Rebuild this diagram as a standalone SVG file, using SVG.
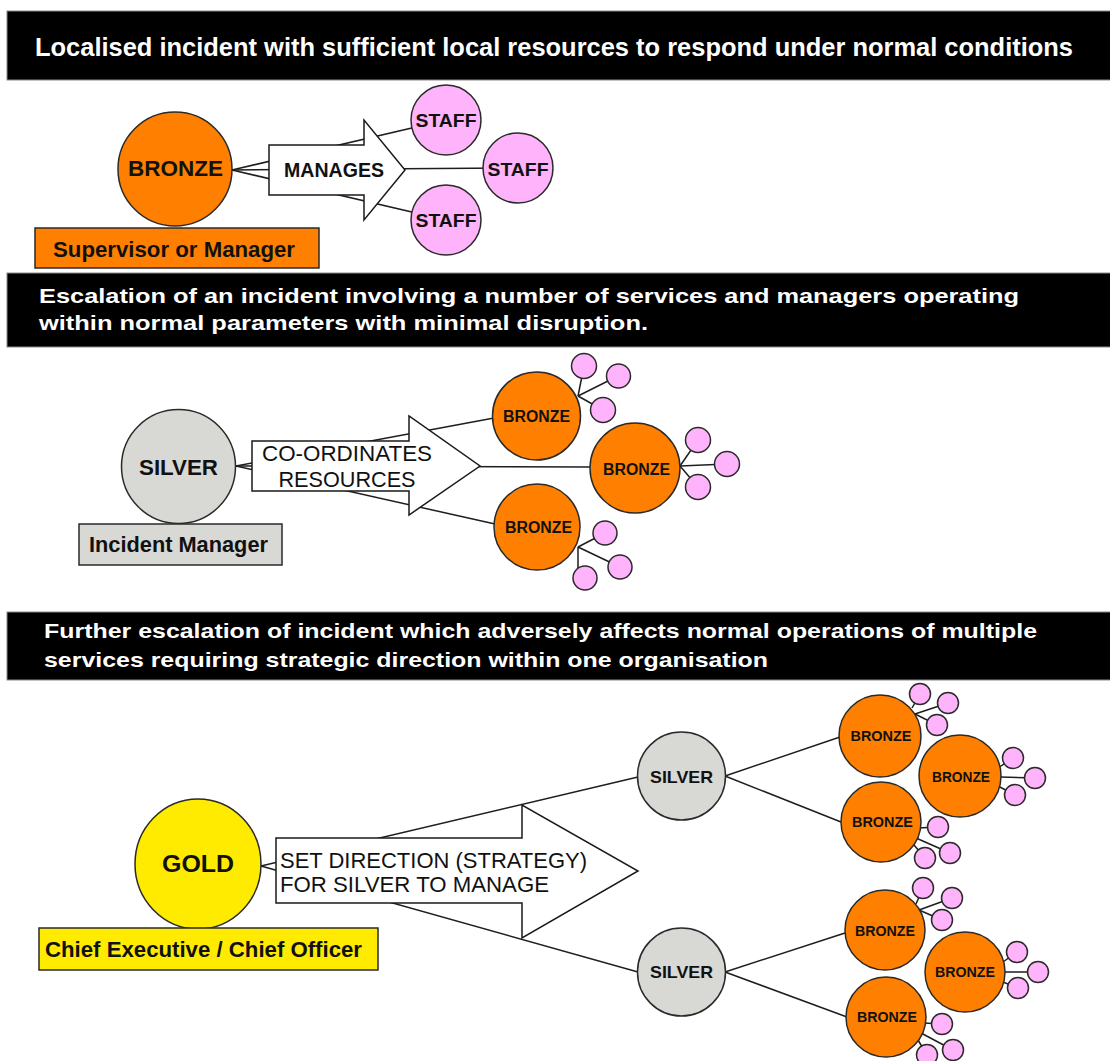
<svg xmlns="http://www.w3.org/2000/svg" width="1110" height="1061" viewBox="0 0 1110 1061">
  <style>
    .bar { fill: #000; stroke: #8a8a8a; stroke-width: 1; }
    .bar-text { font-family: "Liberation Sans", Arial, sans-serif; font-weight: bold; fill: #fff; }
    .lbl { font-family: "Liberation Sans", Arial, sans-serif; font-weight: bold; fill: #111; }
    .plain { font-family: "Liberation Sans", Arial, sans-serif; font-weight: normal; fill: #111; }
    .bronze { fill: #ff8000; stroke: #2a2a2a; stroke-width: 1.5; }
    .silver { fill: #d8d8d5; stroke: #2a2a2a; stroke-width: 1.5; }
    .gold { fill: #ffeb00; stroke: #2a2a2a; stroke-width: 1.5; }
    .staff { fill: #ffb3fa; stroke: #2a2a2a; stroke-width: 1.5; }
    .arrow { fill: #fff; stroke: #1a1a1a; stroke-width: 1.5; stroke-linejoin: miter; }
    .role { stroke: #2a2a2a; stroke-width: 1.5; }
    .link { stroke: #1e1e1e; stroke-width: 1.5; fill: none; }
  </style>

  <!-- Heading bars -->
  <g id="bar-localised">
    <rect class="bar" x="7" y="11" width="1110" height="69"/>
    <text class="bar-text" x="35" y="56" font-size="25.5" textLength="1038" lengthAdjust="spacingAndGlyphs">Localised incident with sufficient local resources to respond under normal conditions</text>
  </g>
  <g id="bar-escalation">
    <rect class="bar" x="7" y="273" width="1110" height="74"/>
    <text class="bar-text" x="39" y="303" font-size="21" textLength="980" lengthAdjust="spacingAndGlyphs">Escalation of an incident involving a number of services and managers operating</text>
    <text class="bar-text" x="39" y="330" font-size="21" textLength="609" lengthAdjust="spacingAndGlyphs">within normal parameters with minimal disruption.</text>
  </g>
  <g id="bar-further">
    <rect class="bar" x="7" y="612" width="1110" height="68"/>
    <text class="bar-text" x="44" y="638" font-size="21" textLength="993" lengthAdjust="spacingAndGlyphs">Further escalation of incident which adversely affects normal operations of multiple</text>
    <text class="bar-text" x="44" y="667" font-size="21" textLength="724" lengthAdjust="spacingAndGlyphs">services requiring strategic direction within one organisation</text>
  </g>

  <!-- Connectors -->
  <g id="connectors" class="link">
    <!-- bronze to staff -->
    <line x1="232" y1="170" x2="446" y2="120"/>
    <line x1="232" y1="170" x2="518" y2="168"/>
    <line x1="232" y1="170" x2="446" y2="220"/>
    <!-- silver to bronze -->
    <line x1="236" y1="466" x2="494" y2="418"/>
    <line x1="236" y1="466" x2="591" y2="467"/>
    <line x1="236" y1="466" x2="495" y2="524"/>
    <!-- bronze to staff (level 2) -->
    <polyline points="584,366 578,396"/>
    <line x1="578" y1="396" x2="618" y2="376"/>
    <line x1="578" y1="396" x2="603" y2="410"/>
    <line x1="680" y1="466" x2="698" y2="440"/>
    <line x1="680" y1="466" x2="727" y2="464"/>
    <line x1="680" y1="466" x2="698" y2="487"/>
    <line x1="578" y1="547" x2="605" y2="533"/>
    <line x1="578" y1="547" x2="620" y2="567"/>
    <polyline points="578,547 578,570 585,578"/>
    <!-- gold to silver -->
    <line x1="261" y1="866" x2="638" y2="777"/>
    <line x1="261" y1="866" x2="638" y2="972"/>
    <!-- silver to bronze (level 3) -->
    <line x1="725" y1="776" x2="840" y2="737"/>
    <line x1="725" y1="776" x2="841" y2="822"/>
    <line x1="725" y1="972" x2="845" y2="933"/>
    <line x1="725" y1="972" x2="847" y2="1017"/>
    <!-- bronze to staff (level 3) -->
    <line x1="912" y1="708" x2="920" y2="694"/>
    <line x1="915" y1="714" x2="948" y2="703"/>
    <line x1="915" y1="714" x2="937" y2="725"/>
    <line x1="998" y1="768" x2="1013" y2="758"/>
    <line x1="1000" y1="777" x2="1035" y2="778"/>
    <line x1="998" y1="786" x2="1015" y2="795"/>
    <line x1="918" y1="828" x2="938" y2="827"/>
    <line x1="916" y1="838" x2="950" y2="853"/>
    <line x1="914" y1="845" x2="925" y2="858"/>
    <line x1="916" y1="904" x2="923" y2="888"/>
    <line x1="919" y1="910" x2="952" y2="898"/>
    <line x1="919" y1="910" x2="942" y2="920"/>
    <line x1="1003" y1="962" x2="1017" y2="952"/>
    <line x1="1005" y1="972" x2="1038" y2="972"/>
    <line x1="1003" y1="982" x2="1018" y2="988"/>
    <line x1="924" y1="1023" x2="942" y2="1024"/>
    <line x1="921" y1="1033" x2="953" y2="1050"/>
    <line x1="918" y1="1040" x2="927" y2="1055"/>
  </g>

  <!-- Block arrows -->
  <g id="arrow-manages">
    <path class="arrow" d="M269,145 H364 V120 L405,170 L364,220 V195 H269 Z"/>
    <text class="lbl" x="334" y="177" font-size="19.5" text-anchor="middle" textLength="100" lengthAdjust="spacingAndGlyphs">MANAGES</text>
  </g>
  <g id="arrow-coordinates">
    <path class="arrow" d="M252,441 H409 V416 L480,466 L409,515 V491 H252 Z"/>
    <text class="plain" x="347" y="461" font-size="21.5" text-anchor="middle" textLength="170" lengthAdjust="spacingAndGlyphs">CO-ORDINATES</text>
    <text class="plain" x="347" y="487" font-size="21.5" text-anchor="middle" textLength="137" lengthAdjust="spacingAndGlyphs">RESOURCES</text>
  </g>
  <g id="arrow-direction">
    <path class="arrow" d="M276,838 H522 V805 L638,871 L522,938 V903 H276 Z"/>
    <text class="plain" x="280" y="868" font-size="22" textLength="307" lengthAdjust="spacingAndGlyphs">SET DIRECTION (STRATEGY)</text>
    <text class="plain" x="280" y="892" font-size="22" textLength="269" lengthAdjust="spacingAndGlyphs">FOR SILVER TO MANAGE</text>
  </g>

  <!-- Level 1: bronze manages staff -->
  <g id="bronze-main">
    <circle class="bronze" cx="175" cy="169" r="57"/>
    <text class="lbl" x="175.5" y="176" font-size="22" text-anchor="middle" textLength="95" lengthAdjust="spacingAndGlyphs">BRONZE</text>
  </g>
  <g id="role-supervisor">
    <rect class="role" x="35" y="228" width="284" height="40" fill="#ff8000"/>
    <text class="lbl" x="53" y="257" font-size="21.5" textLength="242" lengthAdjust="spacingAndGlyphs">Supervisor or Manager</text>
  </g>
  <g id="staff-1">
    <circle class="staff" cx="446" cy="120" r="35"/>
    <text class="lbl" x="446" y="127" font-size="19" text-anchor="middle" textLength="61" lengthAdjust="spacingAndGlyphs">STAFF</text>
  </g>
  <g id="staff-2">
    <circle class="staff" cx="518" cy="168" r="35"/>
    <text class="lbl" x="518" y="176" font-size="19" text-anchor="middle" textLength="61" lengthAdjust="spacingAndGlyphs">STAFF</text>
  </g>
  <g id="staff-3">
    <circle class="staff" cx="446" cy="220" r="35"/>
    <text class="lbl" x="446" y="227" font-size="19" text-anchor="middle" textLength="61" lengthAdjust="spacingAndGlyphs">STAFF</text>
  </g>

  <!-- Level 2: silver co-ordinates bronzes -->
  <g id="silver-main">
    <circle class="silver" cx="178.5" cy="466.5" r="57"/>
    <text class="lbl" x="178.5" y="475" font-size="21.5" text-anchor="middle" textLength="79" lengthAdjust="spacingAndGlyphs">SILVER</text>
  </g>
  <g id="role-incident-manager">
    <rect class="role" x="79" y="524" width="203" height="41" fill="#d8d8d5"/>
    <text class="lbl" x="89" y="552" font-size="21.5" textLength="179" lengthAdjust="spacingAndGlyphs">Incident Manager</text>
  </g>
  <g id="bronze-2a">
    <circle class="bronze" cx="536.5" cy="416" r="44"/>
    <text class="lbl" x="536.5" y="422" font-size="16" text-anchor="middle" textLength="67" lengthAdjust="spacingAndGlyphs">BRONZE</text>
  </g>
  <g id="bronze-2b">
    <circle class="bronze" cx="635" cy="468" r="45"/>
    <text class="lbl" x="636.5" y="475" font-size="16" text-anchor="middle" textLength="67" lengthAdjust="spacingAndGlyphs">BRONZE</text>
  </g>
  <g id="bronze-2c">
    <circle class="bronze" cx="537" cy="527" r="43"/>
    <text class="lbl" x="538.5" y="533" font-size="16" text-anchor="middle" textLength="67" lengthAdjust="spacingAndGlyphs">BRONZE</text>
  </g>
  <g id="staff-2a">
    <circle class="staff" cx="584" cy="366" r="12.5"/>
    <circle class="staff" cx="618.5" cy="376" r="12"/>
    <circle class="staff" cx="603" cy="410" r="12.5"/>
  </g>
  <g id="staff-2b">
    <circle class="staff" cx="698" cy="440" r="12.5"/>
    <circle class="staff" cx="727" cy="464" r="12.5"/>
    <circle class="staff" cx="698" cy="487" r="12.5"/>
  </g>
  <g id="staff-2c">
    <circle class="staff" cx="605" cy="533" r="12"/>
    <circle class="staff" cx="620" cy="567" r="12"/>
    <circle class="staff" cx="585" cy="578" r="12"/>
  </g>

  <!-- Level 3: gold sets direction for silvers -->
  <g id="gold-main">
    <ellipse class="gold" cx="198" cy="864" rx="63" ry="65"/>
    <text class="lbl" x="198" y="872" font-size="24" text-anchor="middle" textLength="72" lengthAdjust="spacingAndGlyphs">GOLD</text>
  </g>
  <g id="role-chief">
    <rect class="role" x="39" y="928" width="339" height="42" fill="#ffeb00"/>
    <text class="lbl" x="45" y="957" font-size="22" textLength="317" lengthAdjust="spacingAndGlyphs">Chief Executive / Chief Officer</text>
  </g>
  <g id="silver-3a">
    <circle class="silver" cx="681.5" cy="776" r="44"/>
    <text class="lbl" x="681.5" y="783" font-size="17" text-anchor="middle" textLength="63" lengthAdjust="spacingAndGlyphs">SILVER</text>
  </g>
  <g id="silver-3b">
    <circle class="silver" cx="681.5" cy="972" r="44"/>
    <text class="lbl" x="681.5" y="978" font-size="17" text-anchor="middle" textLength="63" lengthAdjust="spacingAndGlyphs">SILVER</text>
  </g>
  <g id="bronze-3a">
    <circle class="bronze" cx="880" cy="736" r="41"/>
    <text class="lbl" x="881" y="741" font-size="14" text-anchor="middle" textLength="61" lengthAdjust="spacingAndGlyphs">BRONZE</text>
  </g>
  <g id="bronze-3b">
    <circle class="bronze" cx="960" cy="776" r="41"/>
    <text class="lbl" x="961" y="782" font-size="14" text-anchor="middle" textLength="58" lengthAdjust="spacingAndGlyphs">BRONZE</text>
  </g>
  <g id="bronze-3c">
    <circle class="bronze" cx="881" cy="822" r="40"/>
    <text class="lbl" x="882.5" y="827" font-size="14" text-anchor="middle" textLength="61" lengthAdjust="spacingAndGlyphs">BRONZE</text>
  </g>
  <g id="bronze-3d">
    <circle class="bronze" cx="885" cy="930" r="40"/>
    <text class="lbl" x="885" y="936" font-size="14" text-anchor="middle" textLength="60" lengthAdjust="spacingAndGlyphs">BRONZE</text>
  </g>
  <g id="bronze-3e">
    <circle class="bronze" cx="965" cy="972" r="40"/>
    <text class="lbl" x="965" y="977" font-size="14" text-anchor="middle" textLength="60" lengthAdjust="spacingAndGlyphs">BRONZE</text>
  </g>
  <g id="bronze-3f">
    <circle class="bronze" cx="886" cy="1017" r="40"/>
    <text class="lbl" x="887" y="1022" font-size="14" text-anchor="middle" textLength="60" lengthAdjust="spacingAndGlyphs">BRONZE</text>
  </g>
  <g id="staff-3a">
    <circle class="staff" cx="920" cy="694" r="10.5"/>
    <circle class="staff" cx="948" cy="703" r="10.5"/>
    <circle class="staff" cx="937" cy="725" r="10.5"/>
  </g>
  <g id="staff-3b">
    <circle class="staff" cx="1013" cy="758" r="10.5"/>
    <circle class="staff" cx="1035" cy="778" r="10.5"/>
    <circle class="staff" cx="1015" cy="795" r="10.5"/>
  </g>
  <g id="staff-3c">
    <circle class="staff" cx="938" cy="827" r="10.5"/>
    <circle class="staff" cx="950" cy="853" r="10.5"/>
    <circle class="staff" cx="925" cy="858" r="10.5"/>
  </g>
  <g id="staff-3d">
    <circle class="staff" cx="923" cy="888" r="10.5"/>
    <circle class="staff" cx="952" cy="898" r="10.5"/>
    <circle class="staff" cx="942" cy="920" r="10.5"/>
  </g>
  <g id="staff-3e">
    <circle class="staff" cx="1017" cy="952" r="10.5"/>
    <circle class="staff" cx="1038" cy="972" r="10.5"/>
    <circle class="staff" cx="1018" cy="988" r="10.5"/>
  </g>
  <g id="staff-3f">
    <circle class="staff" cx="942" cy="1024" r="10.5"/>
    <circle class="staff" cx="953" cy="1050" r="10.5"/>
    <circle class="staff" cx="927" cy="1055" r="10.5"/>
  </g>
</svg>
